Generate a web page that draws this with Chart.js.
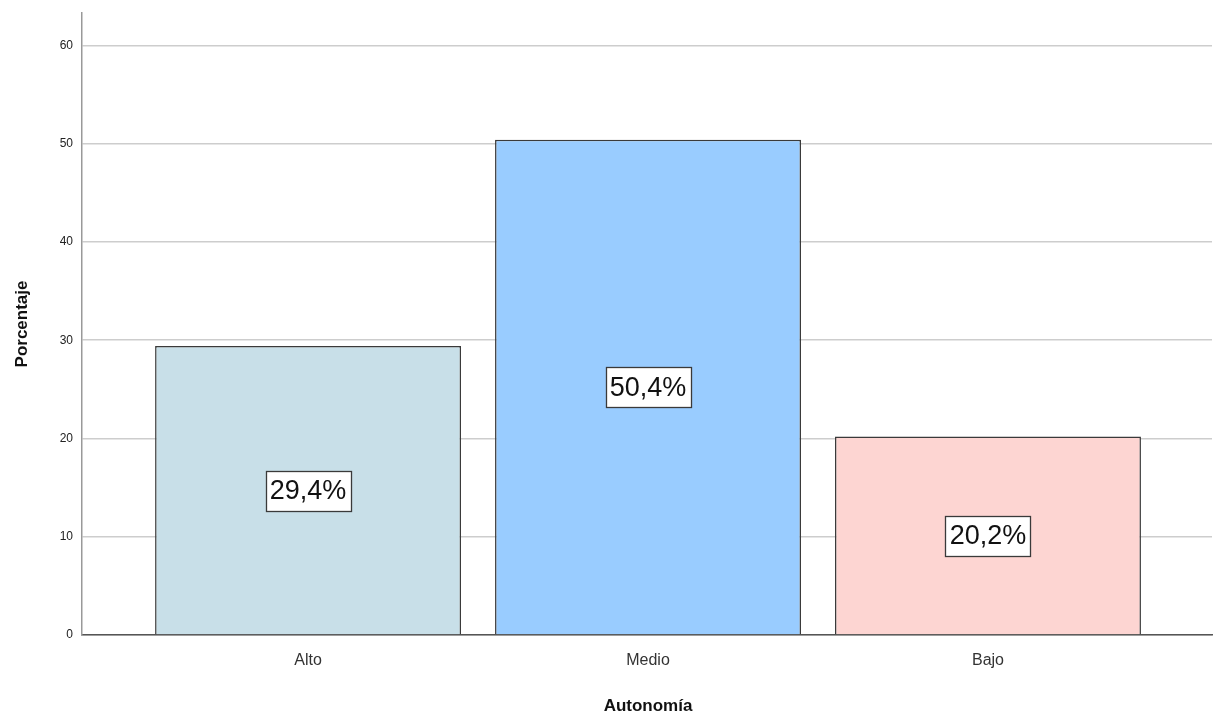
<!DOCTYPE html>
<html>
<head>
<meta charset="utf-8">
<script src="https://cdn.jsdelivr.net/npm/chart.js@4/dist/chart.umd.min.js"></script>
<style>
  html, body { margin: 0; padding: 0; background: #ffffff; }
  #wrap { width: 1215px; height: 718px; position: relative; }
</style>
</head>
<body>
<div id="wrap"><canvas id="c" width="1215" height="718"></canvas></div>
<script>
// Autonomía — porcentaje por nivel
const categories = ['Alto', 'Medio', 'Bajo'];
const percentages = [29.4, 50.4, 20.2];
const barColors = ['#c8dfe8', '#99ccff', '#fdd5d2'];
const yTicks = [0, 10, 20, 30, 40, 50, 60];
const xTitle = 'Autonomía';
const yTitle = 'Porcentaje';

const FONT = '"Liberation Sans", Arial, sans-serif';

// Value boxes drawn at the middle of each bar, plus axis titles
const labelPlugin = {
  id: 'valueBoxes',
  afterDatasetsDraw(chart) {
    const ctx = chart.ctx;
    const meta = chart.getDatasetMeta(0);
    ctx.save();
    ctx.font = '27px ' + FONT;
    ctx.textAlign = 'center';
    ctx.textBaseline = 'middle';
    meta.data.forEach((bar, i) => {
      const v = percentages[i];
      const txt = v.toFixed(1).replace('.', ',') + '%';
      const yMid = chart.scales.y.getPixelForValue(v / 2);
      const w = Math.round(ctx.measureText(txt).width + 8);
      const h = 40;
      const x0 = Math.round(bar.x - w / 2) + 0.5;
      const y0 = Math.round(yMid - h / 2) + 0.5;
      ctx.fillStyle = '#ffffff';
      ctx.fillRect(x0, y0, w, h);
      ctx.strokeStyle = '#3a3a3a';
      ctx.lineWidth = 1.3;
      ctx.strokeRect(x0, y0, w, h);
      ctx.fillStyle = '#111111';
      ctx.fillText(txt, bar.x, yMid + 1);
    });
    ctx.restore();
  },
  afterDraw(chart) {
    const ctx = chart.ctx;
    const area = chart.chartArea;
    ctx.save();
    ctx.fillStyle = '#111111';
    ctx.font = 'bold 17px ' + FONT;
    ctx.textAlign = 'center';
    ctx.textBaseline = 'middle';
    ctx.fillText(xTitle, chart.scales.x.getPixelForValue(1), 706);
    ctx.translate(22, (area.top + area.bottom) / 2);
    ctx.rotate(-Math.PI / 2);
    ctx.fillText(yTitle, 0, 0);
    ctx.restore();
  }
};

new Chart(document.getElementById('c'), {
  type: 'bar',
  data: {
    datasets: [{
      data: percentages.map((v, i) => ({ x: i, y: v })),
      backgroundColor: barColors,
      borderColor: '#3a3a3a',
      borderWidth: 1.5,
      borderSkipped: 'bottom',
      barPercentage: 0.9,
      categoryPercentage: 1.0
    }]
  },
  options: {
    responsive: false,
    animation: false,
    devicePixelRatio: 1,
    layout: { padding: { top: 13, right: 3, left: 0, bottom: 0 } },
    plugins: { legend: { display: false }, tooltip: { enabled: false } },
    scales: {
      x: {
        type: 'linear',
        offset: false,
        min: -0.665,
        max: 2.659,
        afterBuildTicks(scale) { scale.ticks = categories.map((c, i) => ({ value: i })); },
        afterFit(scale) { scale.height = 83; scale.paddingLeft = 0; scale.paddingRight = 0; },
        ticks: {
          autoSkip: false,
          maxRotation: 0,
          padding: 16,
          color: '#333333',
          font: { family: FONT, size: 16 },
          callback: (v) => categories[v]
        },
        grid: { display: false, drawTicks: false, offset: false },
        border: { display: true, color: '#555555', width: 1.5 }
      },
      y: {
        min: 0,
        max: 63.3,
        afterBuildTicks(scale) { scale.ticks = yTicks.map(v => ({ value: v })); },
        afterFit(scale) { scale.width = 82; scale.paddingTop = 0; scale.paddingBottom = 0; },
        ticks: {
          padding: 9,
          color: '#222222',
          font: { family: FONT, size: 12 }
        },
        grid: { color: '#cdcdcd', lineWidth: 1.5, drawTicks: false },
        border: { display: true, color: '#999999', width: 1.5 }
      }
    }
  },
  plugins: [labelPlugin]
});
</script>
</body>
</html>
